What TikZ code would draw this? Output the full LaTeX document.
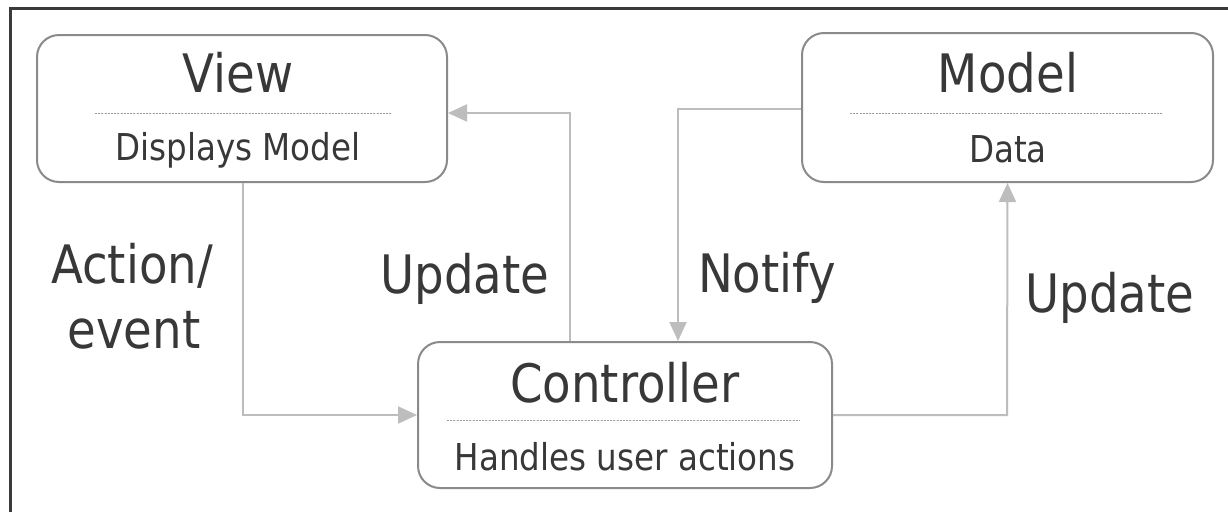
\documentclass[tikz,border=0pt]{standalone}
\usepackage{fontspec}
\setmainfont{DejaVu Sans}[FakeStretch=0.88]
\usetikzlibrary{arrows.meta}
\definecolor{boxline}{HTML}{8A8A8A}
\definecolor{arrowgray}{HTML}{BDBDBD}
\definecolor{txt}{HTML}{383838}
\definecolor{frame}{HTML}{3A3A3A}
\definecolor{dashc}{HTML}{9A9A9A}
\begin{document}
\begin{tikzpicture}[x=1pt,y=-1pt,
  box/.style={draw=boxline, line width=2pt, rounded corners=22pt, fill=white, inner sep=0pt},
  title/.style={anchor=base, text=txt, inner sep=0pt, font=\fontsize{53}{63}\selectfont},
  sub/.style={anchor=base, text=txt, inner sep=0pt, font=\fontsize{37}{44}\selectfont},
  lbl/.style={anchor=base, text=txt, inner sep=0pt, align=center, font=\fontsize{53}{65}\selectfont},
  sep/.style={draw=dashc, line width=1pt, dash pattern=on 2pt off 1.2pt},
  conn/.style={draw=arrowgray, line width=2pt, -{Triangle[length=19pt,width=17pt]}}
]
\useasboundingbox (0,0) rectangle (1228,512);
\fill[white] (0,0) rectangle (1228,512);
% frame
\draw[frame, line width=3pt] (10,512) -- (10,8) -- (1228,8);

% boxes
\node[box, minimum width=410pt, minimum height=147pt] (view) at (242,108.5) {};
\node[box, minimum width=411pt, minimum height=149pt] (model) at (1007.5,107.5) {};
\node[box, minimum width=414pt, minimum height=146pt] (ctrl) at (625,415) {};

% texts inside boxes
\node[title] (viewT) at (238,92) {View};
\node[sub] (viewS) at (238,160) {Displays Model};
\draw[sep] (95,113) -- (392,113);

\node[title] (modelT) at (1008,92) {Model};
\node[sub] (modelS) at (1008,162) {Data};
\draw[sep] (850,113) -- (1162,113);

\node[title] (ctrlT) at (625,402) {Controller};
\node[sub] (ctrlS) at (625,470) {Handles user actions};
\draw[sep] (447,420) -- (800,420);

% connector bend points
\coordinate (c1) at (243,415);
\coordinate (c2) at (570,113);
\coordinate (c3) at (678,109);
\coordinate (c4) at (1007,415);

% connectors
\draw[conn] (view.south -| c1) -- (c1) -- (ctrl.west);
\draw[conn] (ctrl.north -| c2) -- (c2) -- (c2 -| view.east);
\draw[conn] (c3 -| model.west) -- (c3) -- (c3 |- ctrl.north);
\draw[conn] (ctrl.east) -- (c4) -- (model.south);

% labels
\node[lbl] (lAct) at (132,283) {Action/};
\node[lbl] (lEvt) at (134,348) {event};
\node[lbl] (lUp1) at (465,293) {Update};
\node[lbl] (lNot) at (767,292) {Notify};
\node[lbl] (lUp2) at (1110,312) {Update};
\end{tikzpicture}
\end{document}
